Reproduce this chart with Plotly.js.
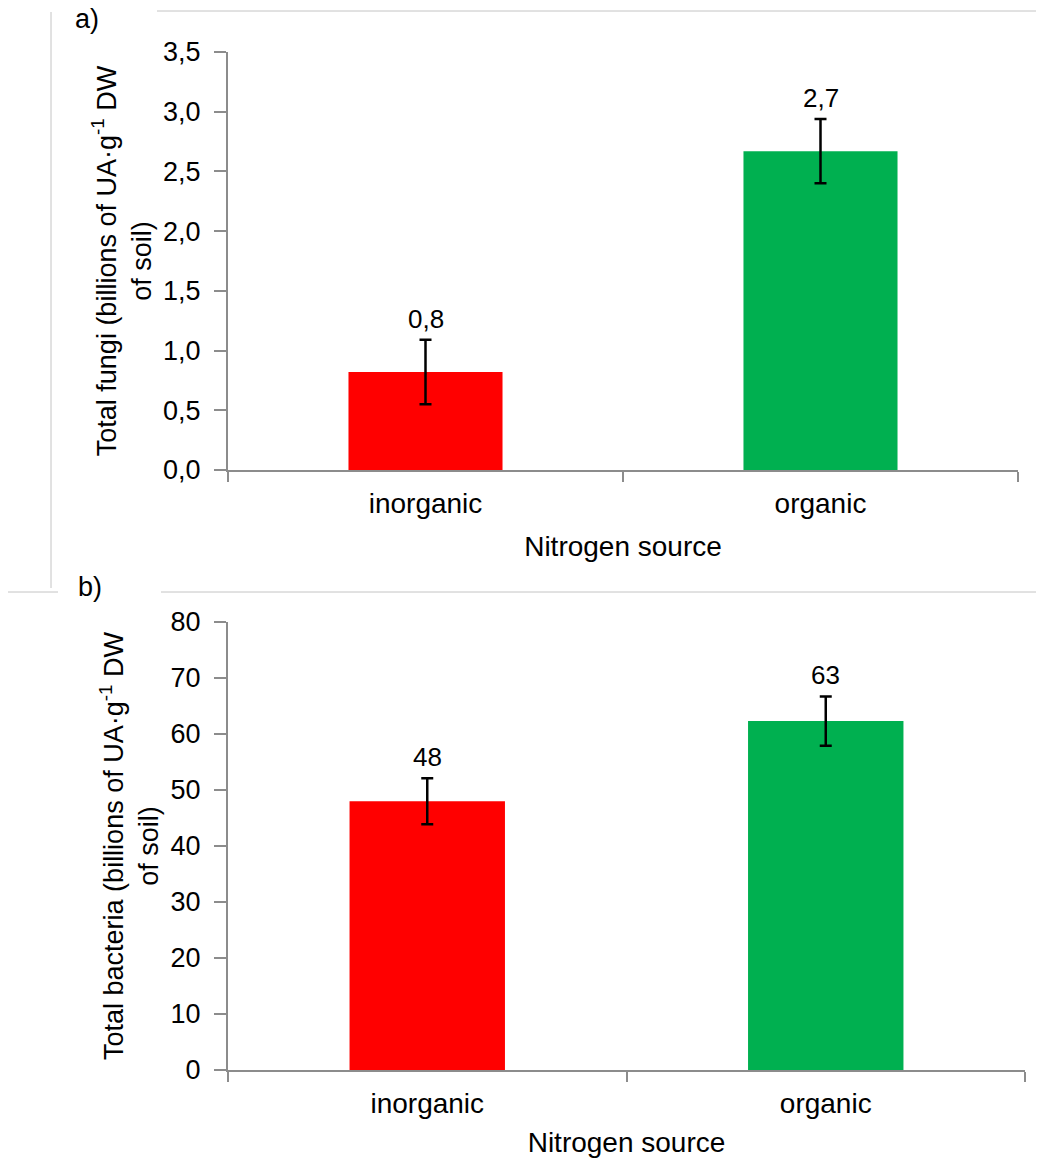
<!DOCTYPE html>
<html>
<head>
<meta charset="utf-8">
<script src="https://cdn.plot.ly/plotly-3.0.1.min.js"></script>
<style>html,body{margin:0;padding:0;background:#fff;}#chart{width:1055px;height:1164px;}</style>
</head>
<body>
<div id="chart"></div>
<script>
const categories = ["inorganic", "organic"];
const fungiValues = [0.82, 2.67];
const fungiErrors = [0.27, 0.27];
const fungiLabels = ["0,8", "2,7"];
const bacteriaValues = [48.0, 62.3];
const bacteriaErrors = [4.1, 4.4];
const bacteriaLabels = ["48", "63"];
const barColors = ["#FF0000", "#00B050"];
const xTitle = "Nitrogen source";
const fungiTitle = "Total fungi (billions of UA·g<sup>-1</sup> DW<br>of soil)";
const bacteriaTitle = "Total bacteria (billions of UA·g<sup>-1</sup> DW<br>of soil)";

const W = 1055, H = 1164;
const px = v => v / W;
const py = v => 1 - v / H;
const FONT = "Liberation Sans, Arial, sans-serif";
const axisColor = "#8c8c8c";

const traces = [
  {type: "bar", x: categories, y: fungiValues, xaxis: "x", yaxis: "y",
   marker: {color: barColors}, showlegend: false, hoverinfo: "skip",
   error_y: {type: "data", array: fungiErrors, visible: true, color: "#000", thickness: 2.5, width: 6}},
  {type: "bar", x: categories, y: bacteriaValues, xaxis: "x2", yaxis: "y2",
   marker: {color: barColors}, showlegend: false, hoverinfo: "skip",
   error_y: {type: "data", array: bacteriaErrors, visible: true, color: "#000", thickness: 2.5, width: 6}}
];

const annotations = [];
categories.forEach((c, i) => {
  annotations.push({x: c, y: fungiValues[i] + fungiErrors[i], xref: "x", yref: "y", text: fungiLabels[i],
    showarrow: false, yanchor: "bottom", yshift: 4, font: {family: FONT, size: 26, color: "#000"}});
  annotations.push({x: c, y: bacteriaValues[i] + bacteriaErrors[i], xref: "x2", yref: "y2", text: bacteriaLabels[i],
    showarrow: false, yanchor: "bottom", yshift: 4, font: {family: FONT, size: 26, color: "#000"}});
});
annotations.push({x: px(87), y: py(19), xref: "paper", yref: "paper", text: "a)", showarrow: false,
  xanchor: "center", yanchor: "middle", font: {family: FONT, size: 27, color: "#000"}});
annotations.push({x: px(90), y: py(587), xref: "paper", yref: "paper", text: "b)", showarrow: false,
  xanchor: "center", yanchor: "middle", font: {family: FONT, size: 27, color: "#000"}});

const frameColor = "#c4c4c4";
const shapes = [
  {type: "line", xref: "paper", yref: "paper", x0: px(157), x1: px(1036), y0: py(11), y1: py(11), line: {color: frameColor, width: 1}},
  {type: "line", xref: "paper", yref: "paper", x0: px(51), x1: px(51), y0: py(12), y1: py(588), line: {color: frameColor, width: 1}},
  {type: "line", xref: "paper", yref: "paper", x0: px(8), x1: px(58), y0: py(592), y1: py(592), line: {color: frameColor, width: 1}},
  {type: "line", xref: "paper", yref: "paper", x0: px(161), x1: px(1036), y0: py(592), y1: py(592), line: {color: frameColor, width: 1}}
];

function xAxis(domain, standoff) {
  return {domain: domain, type: "category", showline: true, linecolor: axisColor, linewidth: 2,
    ticks: "outside", tickson: "boundaries", ticklen: 10, tickwidth: 2, tickcolor: axisColor,
    showgrid: false, zeroline: false, fixedrange: true, ticklabelstandoff: 7,
    tickfont: {family: FONT, size: 28, color: "#000"},
    title: {text: xTitle, font: {family: FONT, size: 28, color: "#000"}, standoff: standoff}};
}
function yAxis(domain, range, dtick, fmt, title, anchor) {
  return {domain: domain, range: range, dtick: dtick, tick0: 0, tickformat: fmt, anchor: anchor,
    showline: true, linecolor: axisColor, linewidth: 2, ticks: "outside", ticklen: 12, tickwidth: 2,
    tickcolor: axisColor, showgrid: false, zeroline: false, fixedrange: true, ticklabelstandoff: 8,
    tickfont: {family: FONT, size: 27, color: "#000"},
    title: {text: title, font: {family: FONT, size: 27, color: "#000"}, standoff: 4}};
}

const layout = {
  width: W, height: H, margin: {l: 0, r: 0, t: 0, b: 0},
  paper_bgcolor: "#fff", plot_bgcolor: "#fff",
  separators: ", ", bargap: 0.61, showlegend: false,
  font: {family: FONT, color: "#000"},
  xaxis: Object.assign(xAxis([px(228), px(1018)], 19), {anchor: "y"}),
  yaxis: yAxis([py(470), py(52)], [0, 3.5], 0.5, ".1f", fungiTitle, "x"),
  xaxis2: Object.assign(xAxis([px(228), px(1025)], 15), {anchor: "y2"}),
  yaxis2: yAxis([py(1070), py(622)], [0, 80], 10, "d", bacteriaTitle, "x2"),
  annotations: annotations, shapes: shapes
};

Plotly.newPlot("chart", traces, layout, {staticPlot: true, displayModeBar: false});
</script>
</body>
</html>
